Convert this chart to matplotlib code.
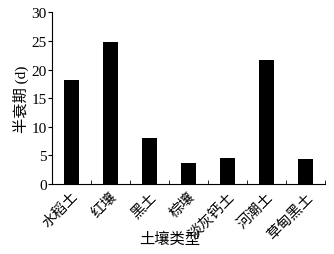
import matplotlib
matplotlib.use("Agg")
import matplotlib.pyplot as plt
import numpy as np

plt.rcParams['font.family'] = ['Liberation Serif', 'Noto Sans CJK SC']

soils = ["水稻土", "红壤", "黑土", "棕壤", "淡灰钙土", "河潮土", "草甸黑土"]
half_life = [18.1, 24.9, 8.0, 3.7, 4.55, 21.6, 4.4]

fig = plt.figure(figsize=(3.34, 2.55), dpi=100)
ax = fig.add_axes([0.156, 0.2745, 0.817, 0.673])

x = np.arange(len(soils))
ax.bar(x, half_life, width=0.4, color="black")

ax.set_xlim(-0.5, len(soils) - 0.5)
ax.set_ylim(0, 30)
ax.set_yticks([0, 5, 10, 15, 20, 25, 30])
ax.set_xticks(x)
ax.set_xticklabels(soils, rotation=45, ha="right", rotation_mode="anchor", fontsize=10.5)
ax.set_xticks(np.arange(len(soils) + 1) - 0.5, minor=True)
ax.tick_params(axis="x", which="major", length=0, pad=4)
ax.tick_params(axis="x", which="minor", direction="in", length=3)
ax.tick_params(axis="y", direction="out", length=3, labelsize=11, pad=1)

for s in ["top", "right"]:
    ax.spines[s].set_visible(False)

ax.set_ylabel("半衰期 (d)", fontsize=11, labelpad=2)
ax.set_xlabel("土壤类型", fontsize=11)
# 横轴标题在原图里偏左, 紧贴在斜放的刻度文字下面
ax.xaxis.set_label_coords(0.43, -0.28)

fig.savefig("out.png", dpi=100)
